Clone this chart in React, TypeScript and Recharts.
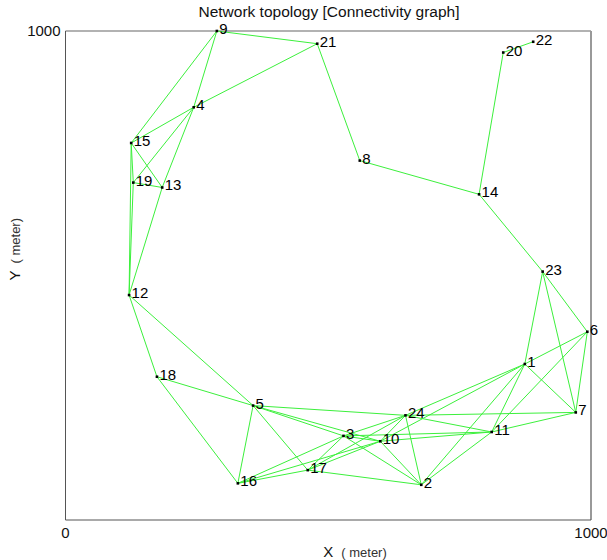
import { ReferenceLine, Scatter, ScatterChart, XAxis, YAxis } from "recharts";

// node positions in meters
const nodeIds = [1, 2, 3, 4, 5, 6, 7, 8, 9, 10, 11, 12, 13, 14, 15, 16, 17, 18, 19, 20, 21, 22, 23, 24];
const nodeX = [874, 677, 529, 244, 357, 993, 971, 560, 288, 599, 811, 121, 184, 787, 125, 328, 461, 174, 129, 833, 479, 890, 908, 647];
const nodeY = [319, 72, 172, 844, 234, 385, 220, 735, 1000, 161, 180, 460, 680, 666, 771, 75, 102, 293, 690, 956, 974, 978, 508, 214];

// links between node ids
const edges: Array<[number, number]> = [
  [1, 2], [1, 6], [1, 7], [1, 10], [1, 11], [1, 23], [1, 24],
  [2, 3], [2, 10], [2, 11], [2, 17], [2, 24],
  [3, 5], [3, 10], [3, 11], [3, 16], [3, 17], [3, 24],
  [4, 9], [4, 13], [4, 15], [4, 19], [4, 21],
  [5, 10], [5, 12], [5, 16], [5, 17], [5, 18], [5, 24],
  [6, 7], [6, 11], [6, 23],
  [7, 11], [7, 23], [7, 24],
  [8, 14], [8, 21],
  [9, 15], [9, 21],
  [10, 11], [10, 16], [10, 17], [10, 24],
  [11, 24],
  [12, 13], [12, 15], [12, 18], [12, 19],
  [13, 15], [13, 19],
  [14, 20], [14, 23],
  [15, 19],
  [16, 17], [16, 18],
  [17, 24],
  [20, 22],
];

const xTicks = [0, 1000];
const yTicks = [1000];
const title = "Network topology [Connectivity graph]";

const FONT = "'Liberation Sans', Arial, sans-serif";

const nodes = nodeIds.map((id, i) => ({ id, x: nodeX[i], y: nodeY[i] }));
const byId = (id: number) => nodes[nodeIds.indexOf(id)];

function NodeMark(props: any) {
  const { cx, cy, payload } = props;
  return (
    <g>
      <rect x={cx - 1.3} y={cy - 1.3} width={2.6} height={2.6} fill="#000" />
      <text x={cx + 2.5} y={cy + 3} fontSize={15} fontFamily={FONT} fill="#000">
        {payload.id}
      </text>
    </g>
  );
}

function XTitle(props: any) {
  const { viewBox } = props;
  const cx = viewBox.x + viewBox.width / 2;
  return (
    <text x={cx - 5} y={557} fontFamily={FONT} fill="#111">
      <tspan fontSize={15}>X</tspan>
      <tspan dx={8} fontSize={13} fill="#333">( meter)</tspan>
    </text>
  );
}

function YTitle(props: any) {
  const { viewBox } = props;
  const cy = viewBox.y + viewBox.height / 2;
  return (
    <text x={20} y={cy + 5} transform={`rotate(-90 20 ${cy + 5})`} fontFamily={FONT} fill="#111">
      <tspan fontSize={15}>Y</tspan>
      <tspan dx={7} fontSize={13} fill="#333">( meter)</tspan>
    </text>
  );
}

export default function App() {
  return (
    <div style={{ position: "relative", width: 607, height: 560, background: "#fff" }}>
      <style>{"body{margin:0}"}</style>
      <div
        style={{
          position: "absolute",
          top: 3,
          left: 66,
          width: 526,
          textAlign: "center",
          fontFamily: FONT,
          fontSize: 15.5,
          color: "#111",
        }}
      >
        {title}
      </div>
      <ScatterChart width={607} height={560} margin={{ top: 31, right: 16, left: 0, bottom: 0 }}>
        <XAxis
          type="number"
          dataKey="x"
          domain={[0, 1000]}
          ticks={xTicks}
          height={40}
          tickLine={false}
          tickSize={0}
          tickMargin={7}
          axisLine={{ stroke: "#555" }}
          tick={{ fontSize: 15, fill: "#111", fontFamily: FONT }}
          label={{ content: XTitle }}
        />
        <YAxis
          type="number"
          dataKey="y"
          domain={[0, 1000]}
          ticks={yTicks}
          width={65.5}
          tickLine={false}
          tickSize={0}
          tickMargin={5}
          axisLine={{ stroke: "#555" }}
          tick={{ fontSize: 15, fill: "#111", fontFamily: FONT }}
          label={{ content: YTitle }}
        />
        <ReferenceLine y={1000} stroke="#999" strokeWidth={1.5} />
        <ReferenceLine x={1000} stroke="#999" strokeWidth={2} />
        {edges.map(([a, b]) => (
          <ReferenceLine
            key={`${a}-${b}`}
            segment={[
              { x: byId(a).x, y: byId(a).y },
              { x: byId(b).x, y: byId(b).y },
            ]}
            stroke="#3cf03c"
            strokeWidth={1}
          />
        ))}
        <Scatter data={nodes} shape={NodeMark} isAnimationActive={false} />
      </ScatterChart>
    </div>
  );
}
